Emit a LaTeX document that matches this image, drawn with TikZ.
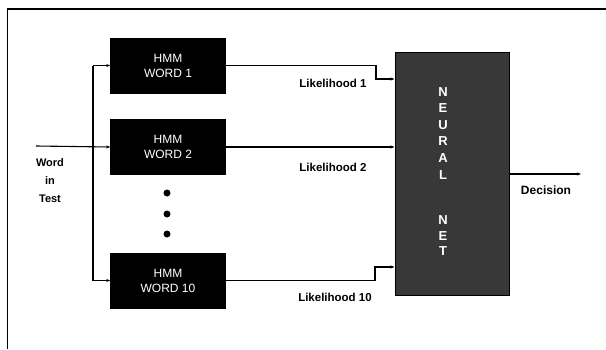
\documentclass[tikz,border=0pt]{standalone}
\usepackage{fontspec}
\setmainfont{Liberation Sans}
\usetikzlibrary{arrows.meta}
\begin{document}
\begin{tikzpicture}[x=1pt,y=-1pt,
 hmm/.style={fill=black, draw=black, minimum width=115pt, minimum height=55pt, text=white,
   font=\fontsize{12}{15}\selectfont, align=center, inner sep=0pt},
 nnbox/.style={fill=black!78, draw=black, line width=1pt, minimum width=114pt, minimum height=243pt, inner sep=0pt},
 wire/.style={line width=1.1pt},
 arr/.style={wire,-{Stealth[length=4pt,width=3pt]}},
 lbl/.style={font=\bfseries\fontsize{11.5}{12}\selectfont, inner sep=0pt},
 nnletter/.style={text=white, font=\bfseries\fontsize{13}{13}\selectfont, inner sep=0pt},
 bigdot/.style={circle, fill=black, minimum size=7pt, inner sep=0pt}]
\useasboundingbox (0,0) rectangle (606,349);
\draw[line width=1.8pt] (7.5,349) -- (7.5,9) -- (606,9);
% HMM boxes
\node[hmm] (h1) at (168,65.5) {HMM\\WORD 1};
\node[hmm] (h2) at (168,147) {HMM\\WORD 2};
\node[hmm] (h10) at (168,280.5) {HMM\\WORD 10};
% dots
\node[bigdot] (d1) at (167,193) {};
\node[bigdot] (d2) at (167,214) {};
\node[bigdot] (d3) at (167,234) {};
% neural net
\node[nnbox] (nn) at (452,173.5) {};
\foreach \l/\y [count=\i] in {N/92,E/108,U/125,R/141,A/158,L/175,N/220,E/236,T/251}
  \node[nnletter] (nl\i) at (443,\y) {\l};
% input
\node[lbl, align=center, font=\bfseries\fontsize{11}{18}\selectfont] (win) at (50,181) {Word\\in\\Test};
\coordinate (in) at (36,146);
\coordinate (sp) at (93,146);
\draw[arr] (in) -- (h2.west);
\draw[wire] (sp |- h1.west) -- (sp |- h10.west);
\draw[arr] (sp |- h1.west) -- (h1.west);
\draw[arr] (sp |- h10.west) -- (h10.west);
% outputs
\coordinate (j1) at (376,79);
\coordinate (j10) at (375,267);
\draw[arr] (h1.east) -| (j1) -- (j1 -| nn.west);
\draw[arr] (h2.east) -- (h2.east -| nn.west);
\draw[arr] (h10.east) -| (j10) -- (j10 -| nn.west);
\node[lbl] (lk1) at (333,83) {Likelihood 1};
\node[lbl] (lk2) at (333,167) {Likelihood 2};
\node[lbl] (lk10) at (335,297) {Likelihood 10};
% decision
\coordinate (dec) at (581,174);
\draw[arr] (dec -| nn.east) -- (dec);
\node[lbl, font=\bfseries\fontsize{12}{12}\selectfont] (dtxt) at (546,190) {Decision};
\end{tikzpicture}
\end{document}
